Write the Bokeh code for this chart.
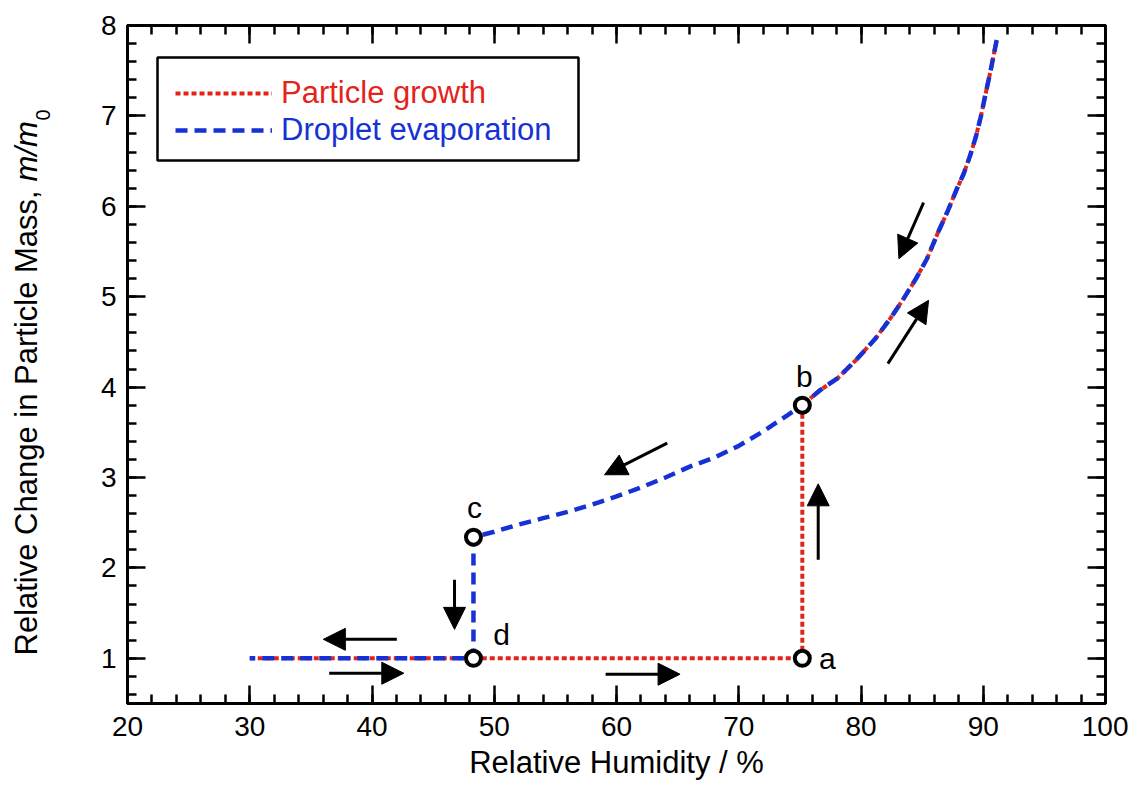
import math
from bokeh.plotting import figure
from bokeh.layouts import row
from bokeh.models import (Range1d, SingleIntervalTicker, LinearAxis, Arrow, NormalHead,
                          Label, Legend, LegendItem, BoxAnnotation, ColumnDataSource)
from bokeh.core.properties import value
from bokeh.embed import file_html
from bokeh.resources import INLINE

# ---------------- data ----------------
growth_rh = [30.0, 75.2, 75.2, 76.6, 78.1, 79.6, 81.2, 82.4, 83.4, 84.5, 85.4, 86.3,
             87.1, 87.8, 88.4, 88.9, 89.4, 89.8, 90.2, 90.6, 91.1]
growth_mass = [1.0, 1.0, 3.80, 3.96, 4.10, 4.30, 4.54, 4.76, 4.96, 5.20, 5.42, 5.71,
               5.95, 6.18, 6.36, 6.55, 6.77, 6.99, 7.25, 7.50, 7.84]

evap_rh = [91.1, 90.6, 90.2, 89.8, 89.4, 88.9, 88.4, 87.8, 87.1, 86.3, 85.4, 84.5,
           83.4, 82.4, 81.2, 79.6, 78.1, 76.6, 75.2, 74.0, 72.0, 70.0, 68.0, 66.0,
           64.0, 62.0, 60.0, 58.0, 56.0, 54.0, 52.0, 50.0, 48.3, 48.3, 30.0]
evap_mass = [7.84, 7.50, 7.25, 6.99, 6.77, 6.55, 6.36, 6.18, 5.95, 5.71, 5.42, 5.20,
             4.96, 4.76, 4.54, 4.30, 4.10, 3.96, 3.80, 3.69, 3.51, 3.35, 3.22, 3.12,
             3.00, 2.89, 2.79, 2.70, 2.62, 2.55, 2.48, 2.40, 2.34, 1.0, 1.0]

point_names = ["a", "b", "c", "d"]
point_rh = [75.2, 75.2, 48.3, 48.3]
point_mass = [1.0, 3.80, 2.34, 1.0]

series_labels = ["Particle growth", "Droplet evaporation"]
x_label = "Relative Humidity / %"
y_label_main = "Relative Change in Particle Mass,"
y_label_var = "m/m"
y_label_sub = "0"

# direction arrows (annotations): x_start, y_start, x_end, y_end
arrows = [
    (85.12, 6.04, 83.10, 5.42),
    (82.20, 4.26, 85.53, 4.96),
    (64.15, 3.38, 59.02, 3.03),
    (76.50, 2.09, 76.50, 2.93),
    (46.75, 1.87, 46.75, 1.32),
    (42.03, 1.21, 36.02, 1.21),
    (36.50, 0.835, 42.60, 0.835),
    (59.11, 0.824, 65.20, 0.824),
]

# ---------------- style ----------------
RED = "#e3241b"
BLUE = "#1732d4"
FONT = "Liberation Sans"
letter_dx = [25, 2, 1, 28]
letter_dy = [0, -29, -30, -24]

LW = 60            # width of the strip holding the y-axis title
W, H = 1128, 782
TOP, BOTTOM = 25, 79
FRAME_BOTTOM = H - BOTTOM   # canvas y of the frame bottom

# strip with the y-axis title (its frame is aligned with the main frame;
# y measured in canvas pixels from the top)
lab = figure(width=LW, height=H, x_range=Range1d(0, LW), y_range=Range1d(FRAME_BOTTOM, TOP),
             output_backend="svg", toolbar_location=None,
             min_border_left=0, min_border_right=0, min_border_top=TOP, min_border_bottom=BOTTOM,
             x_axis_location=None, y_axis_location=None)
lab.outline_line_color = None
lab.grid.visible = False
lab.add_layout(Label(x=26, y=655, text=y_label_main, angle=math.pi / 2,
                     text_align="left", text_baseline="middle", text_font=FONT,
                     text_font_size="31px", text_color="black"))
lab.add_layout(Label(x=26, y=181, text=y_label_var, angle=math.pi / 2,
                     text_align="left", text_baseline="middle", text_font=FONT,
                     text_font_size="31px", text_font_style="italic", text_color="black"))
lab.add_layout(Label(x=42, y=120, text=y_label_sub, angle=math.pi / 2,
                     text_align="left", text_baseline="middle", text_font=FONT,
                     text_font_size="20px", text_color="black"))

p = figure(width=W - LW, height=H, x_range=Range1d(20, 100), y_range=Range1d(0.5, 8),
           output_backend="svg", toolbar_location=None,
           min_border_left=127 - LW, min_border_right=23, min_border_top=TOP, min_border_bottom=BOTTOM)
p.grid.visible = False
p.outline_line_color = "black"
p.outline_line_width = 3
p.background_fill_color = "white"
p.border_fill_color = "white"

xt = SingleIntervalTicker(interval=10, num_minor_ticks=5)
yt = SingleIntervalTicker(interval=1, num_minor_ticks=5)


def style_axis(ax, show_labels=True):
    ax.axis_line_width = 3
    ax.axis_line_color = "black"
    ax.major_tick_in = 18
    ax.major_tick_out = 0
    ax.minor_tick_in = 9
    ax.minor_tick_out = 0
    ax.major_tick_line_width = 2.5
    ax.minor_tick_line_width = 2.5
    ax.major_tick_line_color = "black"
    ax.minor_tick_line_color = "black"
    ax.major_label_text_font = FONT
    if show_labels:
        ax.major_label_text_font_size = "28px"
        ax.major_label_text_color = "black"
    else:
        ax.major_label_text_font_size = "1px"
        ax.major_label_text_color = None
        ax.major_label_standoff = 0


p.xaxis.ticker = xt
p.yaxis.ticker = yt
style_axis(p.xaxis[0])
style_axis(p.yaxis[0])
p.xaxis.major_label_standoff = 13
p.yaxis.major_label_standoff = 11
p.xaxis.axis_label = x_label
p.xaxis.axis_label_text_font = FONT
p.xaxis.axis_label_text_font_size = "31px"
p.xaxis.axis_label_text_font_style = "normal"
p.xaxis.axis_label_text_color = "black"
p.xaxis.axis_label_standoff = 6

top_ax = LinearAxis(ticker=xt)
right_ax = LinearAxis(ticker=yt)
style_axis(top_ax, False)
style_axis(right_ax, False)
p.add_layout(top_ax, "above")
p.add_layout(right_ax, "right")

# curves
r_red = p.line(growth_rh, growth_mass, line_color=RED, line_width=4, line_dash="5 3")
r_blue = p.line(evap_rh, evap_mass, line_color=BLUE, line_width=4.5, line_dash="12 7")

# arrows
for xs, ys, xe, ye in arrows:
    p.add_layout(Arrow(x_start=xs, y_start=ys, x_end=xe, y_end=ye,
                       line_width=3, line_color="black",
                       end=NormalHead(size=22, fill_color="black", line_color="black", line_width=1)))

# state points
src = ColumnDataSource(dict(x=point_rh, y=point_mass, name=point_names, dx=letter_dx, dy=letter_dy))
p.scatter("x", "y", source=src, size=15, line_width=4, line_color="black", fill_color="white")
p.text("x", "y", text="name", source=src, x_offset="dx", y_offset="dy",
       text_font=value(FONT), text_font_size=value("30px"), text_align="center",
       text_baseline="middle", text_color="black")

# legend (frame-relative screen units, measured up from the frame bottom)
box = BoxAnnotation(left=30, right=451, top=FRAME_BOTTOM - 57, bottom=FRAME_BOTTOM - 160,
                    left_units="screen", right_units="screen", top_units="screen", bottom_units="screen",
                    fill_color="white", fill_alpha=1, line_color="black", line_alpha=1, line_width=2.5)
p.add_layout(box)


def make_legend(label, rend, color, loc):
    return Legend(items=[LegendItem(label=label, renderers=[rend])], location=loc,
                  padding=0, margin=0, spacing=0, border_line_alpha=0, background_fill_alpha=0,
                  glyph_width=97, glyph_height=36, label_height=36, label_standoff=9,
                  label_text_font=FONT, label_text_font_size="31px", label_text_color=color)


p.add_layout(make_legend(series_labels[0], r_red, RED, (48, FRAME_BOTTOM - 111)))
p.add_layout(make_legend(series_labels[1], r_blue, BLUE, (48, FRAME_BOTTOM - 148)))

layout = row(lab, p)
open("out.html", "w").write(file_html(layout, INLINE))
